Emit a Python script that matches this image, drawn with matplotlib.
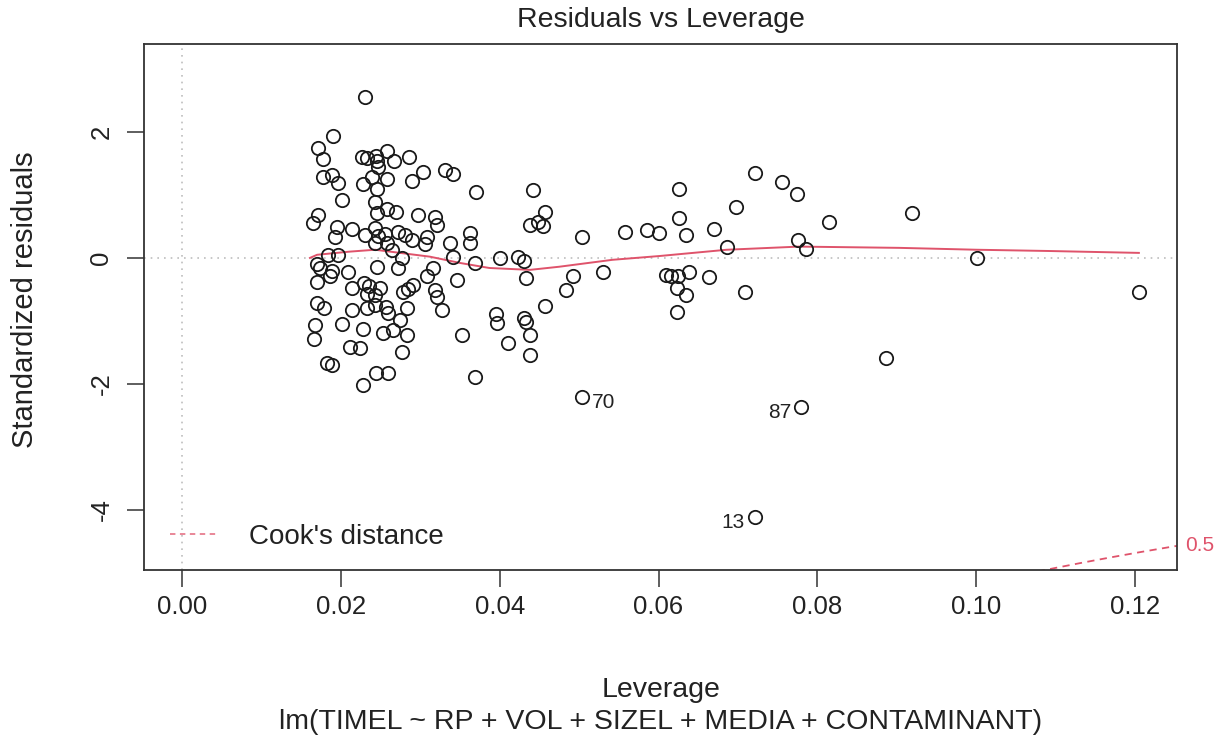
import numpy as np
import matplotlib
matplotlib.use("Agg")
import matplotlib.pyplot as plt
from matplotlib.lines import Line2D

plt.rcParams['font.family'] = ['Liberation Sans', 'DejaVu Sans']

# ---- data ----
leverage = [
    0.0230, 0.0190, 0.0171, 0.0177, 0.0226, 0.0233, 0.0244, 0.0245, 0.0258, 0.0267,
    0.0286, 0.0247, 0.0177, 0.0189, 0.0196, 0.0228, 0.0239, 0.0258, 0.0245, 0.0289,
    0.0304, 0.0331, 0.0341, 0.0370, 0.0201, 0.0243, 0.0258, 0.0270, 0.0245, 0.0297,
    0.0318, 0.0171, 0.0165, 0.0195, 0.0321, 0.0214, 0.0243, 0.0362, 0.0192, 0.0230,
    0.0247, 0.0255, 0.0243, 0.0258, 0.0272, 0.0281, 0.0289, 0.0309, 0.0306, 0.0337,
    0.0362, 0.0264, 0.0184, 0.0196, 0.0170, 0.0174, 0.0189, 0.0186, 0.0209, 0.0245,
    0.0277, 0.0272, 0.0341, 0.0369, 0.0170, 0.0214, 0.0229, 0.0236, 0.0233, 0.0243,
    0.0249, 0.0278, 0.0284, 0.0291, 0.0308, 0.0316, 0.0346, 0.0318, 0.0321, 0.0327,
    0.0170, 0.0179, 0.0214, 0.0233, 0.0243, 0.0257, 0.0259, 0.0283, 0.0275, 0.0167,
    0.0201, 0.0228, 0.0253, 0.0265, 0.0283, 0.0166, 0.0211, 0.0224, 0.0277, 0.0353,
    0.0182, 0.0189, 0.0244, 0.0259, 0.0228, 0.0369,
    0.0442, 0.0457, 0.0438, 0.0448, 0.0454, 0.0504, 0.0400, 0.0423, 0.0431, 0.0433,
    0.0492, 0.0484, 0.0530, 0.0558, 0.0586, 0.0600, 0.0626, 0.0626, 0.0635, 0.0610,
    0.0616, 0.0624, 0.0639, 0.0623, 0.0635, 0.0623, 0.0664, 0.0670, 0.0686, 0.0457,
    0.0395, 0.0397, 0.0431, 0.0433, 0.0438, 0.0411, 0.0438, 0.0504, 0.0721, 0.0755,
    0.0774, 0.0698, 0.0815, 0.0919, 0.0776, 0.0786, 0.1001, 0.0709, 0.1205, 0.0887,
    0.0780, 0.0721,
]
std_resid = [
    2.55, 1.93, 1.74, 1.58, 1.61, 1.59, 1.62, 1.54, 1.70, 1.54,
    1.61, 1.45, 1.29, 1.31, 1.19, 1.18, 1.29, 1.26, 1.10, 1.23,
    1.37, 1.39, 1.34, 1.04, 0.92, 0.89, 0.78, 0.73, 0.72, 0.68,
    0.65, 0.68, 0.56, 0.49, 0.53, 0.46, 0.48, 0.40, 0.33, 0.37,
    0.35, 0.38, 0.24, 0.24, 0.41, 0.37, 0.29, 0.33, 0.22, 0.24,
    0.24, 0.13, 0.05, 0.05, -0.10, -0.16, -0.21, -0.29, -0.22, -0.14,
    0.00, -0.16, 0.02, -0.08, -0.38, -0.48, -0.40, -0.45, -0.57, -0.59,
    -0.48, -0.54, -0.49, -0.43, -0.29, -0.16, -0.35, -0.51, -0.62, -0.83,
    -0.72, -0.80, -0.83, -0.80, -0.75, -0.78, -0.88, -0.80, -0.99, -1.07,
    -1.05, -1.13, -1.19, -1.15, -1.23, -1.29, -1.42, -1.43, -1.50, -1.23,
    -1.67, -1.70, -1.83, -1.83, -2.02, -1.89,
    1.08, 0.73, 0.53, 0.57, 0.51, 0.33, 0.00, 0.02, -0.05, -0.32,
    -0.29, -0.51, -0.22, 0.41, 0.45, 0.40, 1.10, 0.64, 0.37, -0.27,
    -0.29, -0.29, -0.22, -0.48, -0.59, -0.86, -0.30, 0.46, 0.18, -0.76,
    -0.89, -1.04, -0.96, -1.02, -1.23, -1.35, -1.54, -2.21, 1.35, 1.21,
    1.02, 0.81, 0.57, 0.72, 0.29, 0.14, 0.00, -0.54, -0.54, -1.59,
    -2.37, -4.12,
]

# labelled observations: (label, leverage, residual)
label_ids = ["70", "87", "13"]
label_lev = [0.0504, 0.0780, 0.0721]
label_res = [-2.21, -2.37, -4.12]
label_side = ["right", "left", "left"]

# smoothed (red) line
smooth_lev = [0.0161, 0.0170, 0.0211, 0.0243, 0.0262, 0.0312, 0.0350, 0.0387,
              0.0438, 0.0475, 0.0542, 0.0601, 0.0686, 0.0777, 0.0903, 0.1001,
              0.1092, 0.1205]
smooth_res = [0.00, 0.05, 0.10, 0.13, 0.10, 0.02, -0.08, -0.16,
              -0.19, -0.14, -0.03, 0.03, 0.13, 0.18, 0.16, 0.13,
              0.11, 0.08]

n_params = 6
cook_level = 0.5

x_ticks = [0.00, 0.02, 0.04, 0.06, 0.08, 0.10, 0.12]
x_ticklabels = ["0.00", "0.02", "0.04", "0.06", "0.08", "0.10", "0.12"]
y_ticks = [2, 0, -2, -4]
y_ticklabels = ["2", "0", "-2", "-4"]

RED = "#DF536B"

fig = plt.figure(figsize=(12.25, 7.46), dpi=100)
ax = fig.add_axes([144/1225, 1-570/746, (1177-144)/1225, (570-44)/746])

ax.axhline(0, color="#BEBEBE", linestyle=(0, (1, 3)), linewidth=1.2, zorder=1)
ax.axvline(0, color="#BEBEBE", linestyle=(0, (1, 3)), linewidth=1.2, zorder=1)

ax.plot(leverage, std_resid, linestyle="none", marker="o", markersize=9.6,
        markerfacecolor="none", markeredgecolor="#1a1a1a", markeredgewidth=1.3, zorder=3)

ax.plot(smooth_lev, smooth_res, color=RED, linewidth=1.4, zorder=2)

# Cook's distance contour
xlim = (-0.0048, 0.1253)
ylim = (-4.96, 3.40)
hh = np.linspace(0.08, xlim[1], 300)
cy = -np.sqrt(cook_level * n_params * (1 - hh) / hh)
ax.plot(hh, cy, color=RED, linestyle=(0, (4, 3)), linewidth=1.3, zorder=2)
cy_end = -np.sqrt(cook_level * n_params * (1 - xlim[1]) / xlim[1])
ax.text(1.008, cy_end, "0.5", color=RED, fontsize=15,
        transform=ax.get_yaxis_transform(), ha="left", va="center", clip_on=False)

for lab, lx, ly, side in zip(label_ids, label_lev, label_res, label_side):
    if side == "right":
        ax.annotate(lab, (lx, ly), xytext=(7, -4), textcoords="offset points",
                    ha="left", va="center", fontsize=15, color="#222222")
    else:
        ax.annotate(lab, (lx, ly), xytext=(-7, -4), textcoords="offset points",
                    ha="right", va="center", fontsize=15, color="#222222")

ax.set_xlim(*xlim)
ax.set_ylim(*ylim)
ax.set_xticks(x_ticks)
ax.set_xticklabels(x_ticklabels, fontsize=18.5, color="#222222")
ax.set_yticks(y_ticks)
ax.set_yticklabels(y_ticklabels, fontsize=18.5, rotation=90, va="center", color="#222222")
ax.tick_params(axis="both", direction="out", length=12, width=1.1, color="#333333")
ax.tick_params(axis="x", pad=6)
ax.tick_params(axis="y", pad=10)
for sp in ax.spines.values():
    sp.set_linewidth(1.3)
    sp.set_color("#333333")

leg = ax.legend(handles=[Line2D([0], [0], color=RED, alpha=0.75, linestyle=(0, (3, 2.5)), linewidth=1.3)],
                labels=["Cook's distance"], loc="center left",
                bbox_to_anchor=((170-144)/1033, (570-537)/526),
                frameon=False, fontsize=20, handlelength=1.75, handletextpad=1.1,
                borderpad=0, borderaxespad=0)
for t in leg.get_texts():
    t.set_color("#222222")

fig.text(661/1225, 1-20/746, "Residuals vs Leverage", ha="center", va="center",
         fontsize=20.5, color="#222222")
fig.text(661/1225, 1-690/746, "Leverage", ha="center", va="center",
         fontsize=20.5, color="#222222")
fig.text(661/1225, 1-722/746, "lm(TIMEL ~ RP + VOL + SIZEL + MEDIA + CONTAMINANT)",
         ha="center", va="center", fontsize=20.5, color="#222222")
fig.text(25/1225, 1-300/746, "Standardized residuals", ha="center", va="center",
         rotation=90, fontsize=21, color="#222222")

fig.savefig("out.png", dpi=100)
